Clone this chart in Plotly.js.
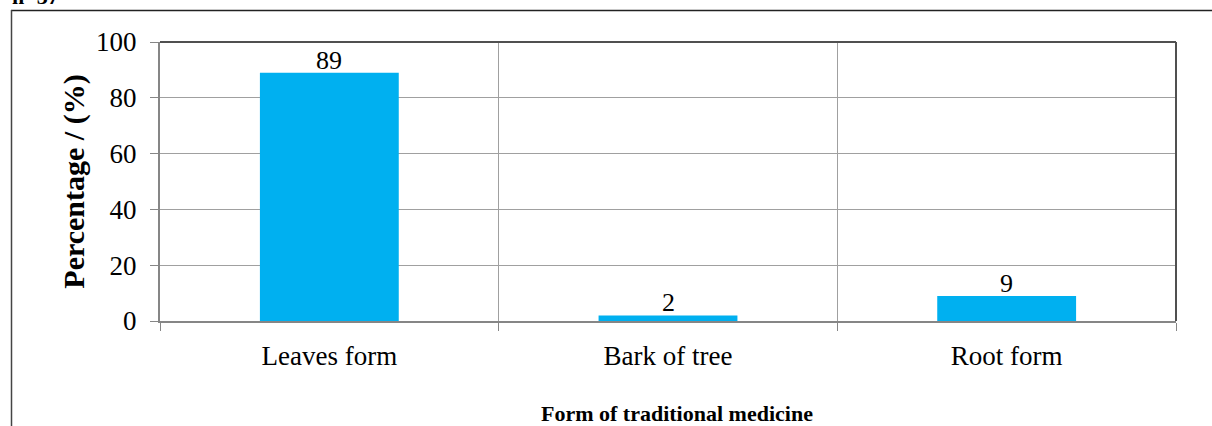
<!DOCTYPE html>
<html><head><meta charset="utf-8">
<script src="https://cdn.plot.ly/plotly-3.0.1.min.js"></script>
<style>html,body{margin:0;padding:0;background:#fff;}#chart{width:1212px;height:426px;}</style>
</head><body><div id="chart"></div>
<script>
const categories = ["Leaves form", "Bark of tree", "Root form"];
const percentages = [89, 2, 9];
const labels = ["89", "2", "9"];
const yTickVals = [0, 20, 40, 60, 80, 100];

const W = 1212, H = 426;
const L = 160, R = 1176, T = 42, B = 321;
const px = x => (x - L) / (R - L);
const py = y => (B - y) / (B - T);

const trace = {
  type: 'bar', x: categories, y: percentages,
  marker: {color: '#00B0F0'}, width: 0.41, hoverinfo: 'none'
};

const valueLabels = categories.map((c, i) => ({
  text: labels[i], x: c, y: percentages[i], xref: 'x', yref: 'y',
  xanchor: 'center', yanchor: 'bottom', yshift: -4, showarrow: false,
  font: {family: 'Liberation Serif', size: 26, color: '#000'}
}));

const layout = {
  width: W, height: H, margin: {l: L, r: W - R, t: T, b: H - B},
  paper_bgcolor: '#fff', plot_bgcolor: '#fff', showlegend: false,
  font: {family: 'Liberation Serif', color: '#000'},
  xaxis: {
    type: 'category', tickson: 'boundaries', showgrid: true, gridcolor: '#A0A0A0', gridwidth: 1,
    ticks: 'outside', ticklen: 8, tickcolor: '#868686', showline: true, linecolor: '#868686', linewidth: 2,
    tickfont: {family: 'Liberation Serif', size: 27, color: '#000'}, ticklabelstandoff: 10,
    fixedrange: true
  },
  yaxis: {
    range: [0, 100], tickvals: yTickVals, showgrid: true, gridcolor: '#A0A0A0', gridwidth: 1,
    ticks: 'outside', ticklen: 8, tickcolor: '#868686', showline: true, linecolor: '#868686', linewidth: 2,
    tickfont: {family: 'Liberation Serif', size: 27, color: '#000'}, ticklabelstandoff: 8,
    zeroline: false,
    title: {text: '<b>Percentage / (%)</b>', font: {family: 'Liberation Serif', size: 30, color: '#000'}, standoff: 3},
    fixedrange: true
  },
  shapes: [
    {type: 'line', xref: 'paper', yref: 'paper', x0: 0, x1: 1, y0: 1, y1: 1, line: {color: '#505050', width: 2}},
    {type: 'line', xref: 'paper', yref: 'paper', x0: 1, x1: 1, y0: 0, y1: 1, line: {color: '#505050', width: 2}},
    {type: 'line', xref: 'paper', yref: 'paper', x0: px(11), x1: px(1215), y0: py(10.5), y1: py(10.5), line: {color: '#222', width: 1.5}},
    {type: 'line', xref: 'paper', yref: 'paper', x0: px(11.5), x1: px(11.5), y0: py(10), y1: py(430), line: {color: '#444', width: 1.5}}
  ],
  annotations: valueLabels.concat([
    {text: '<b>Form of traditional medicine</b>', xref: 'paper', yref: 'paper', x: px(677), y: py(413),
     xanchor: 'center', yanchor: 'middle', showarrow: false,
     font: {family: 'Liberation Serif', size: 22, color: '#000'}},
    {text: '<b>n=37</b>', xref: 'paper', yref: 'paper', x: px(10), y: py(11), xanchor: 'left', yanchor: 'bottom',
     showarrow: false, font: {family: 'Liberation Serif', size: 22, color: '#000'}}
  ])
};

Plotly.newPlot('chart', [trace], layout, {displayModeBar: false, staticPlot: true});
</script></body></html>
